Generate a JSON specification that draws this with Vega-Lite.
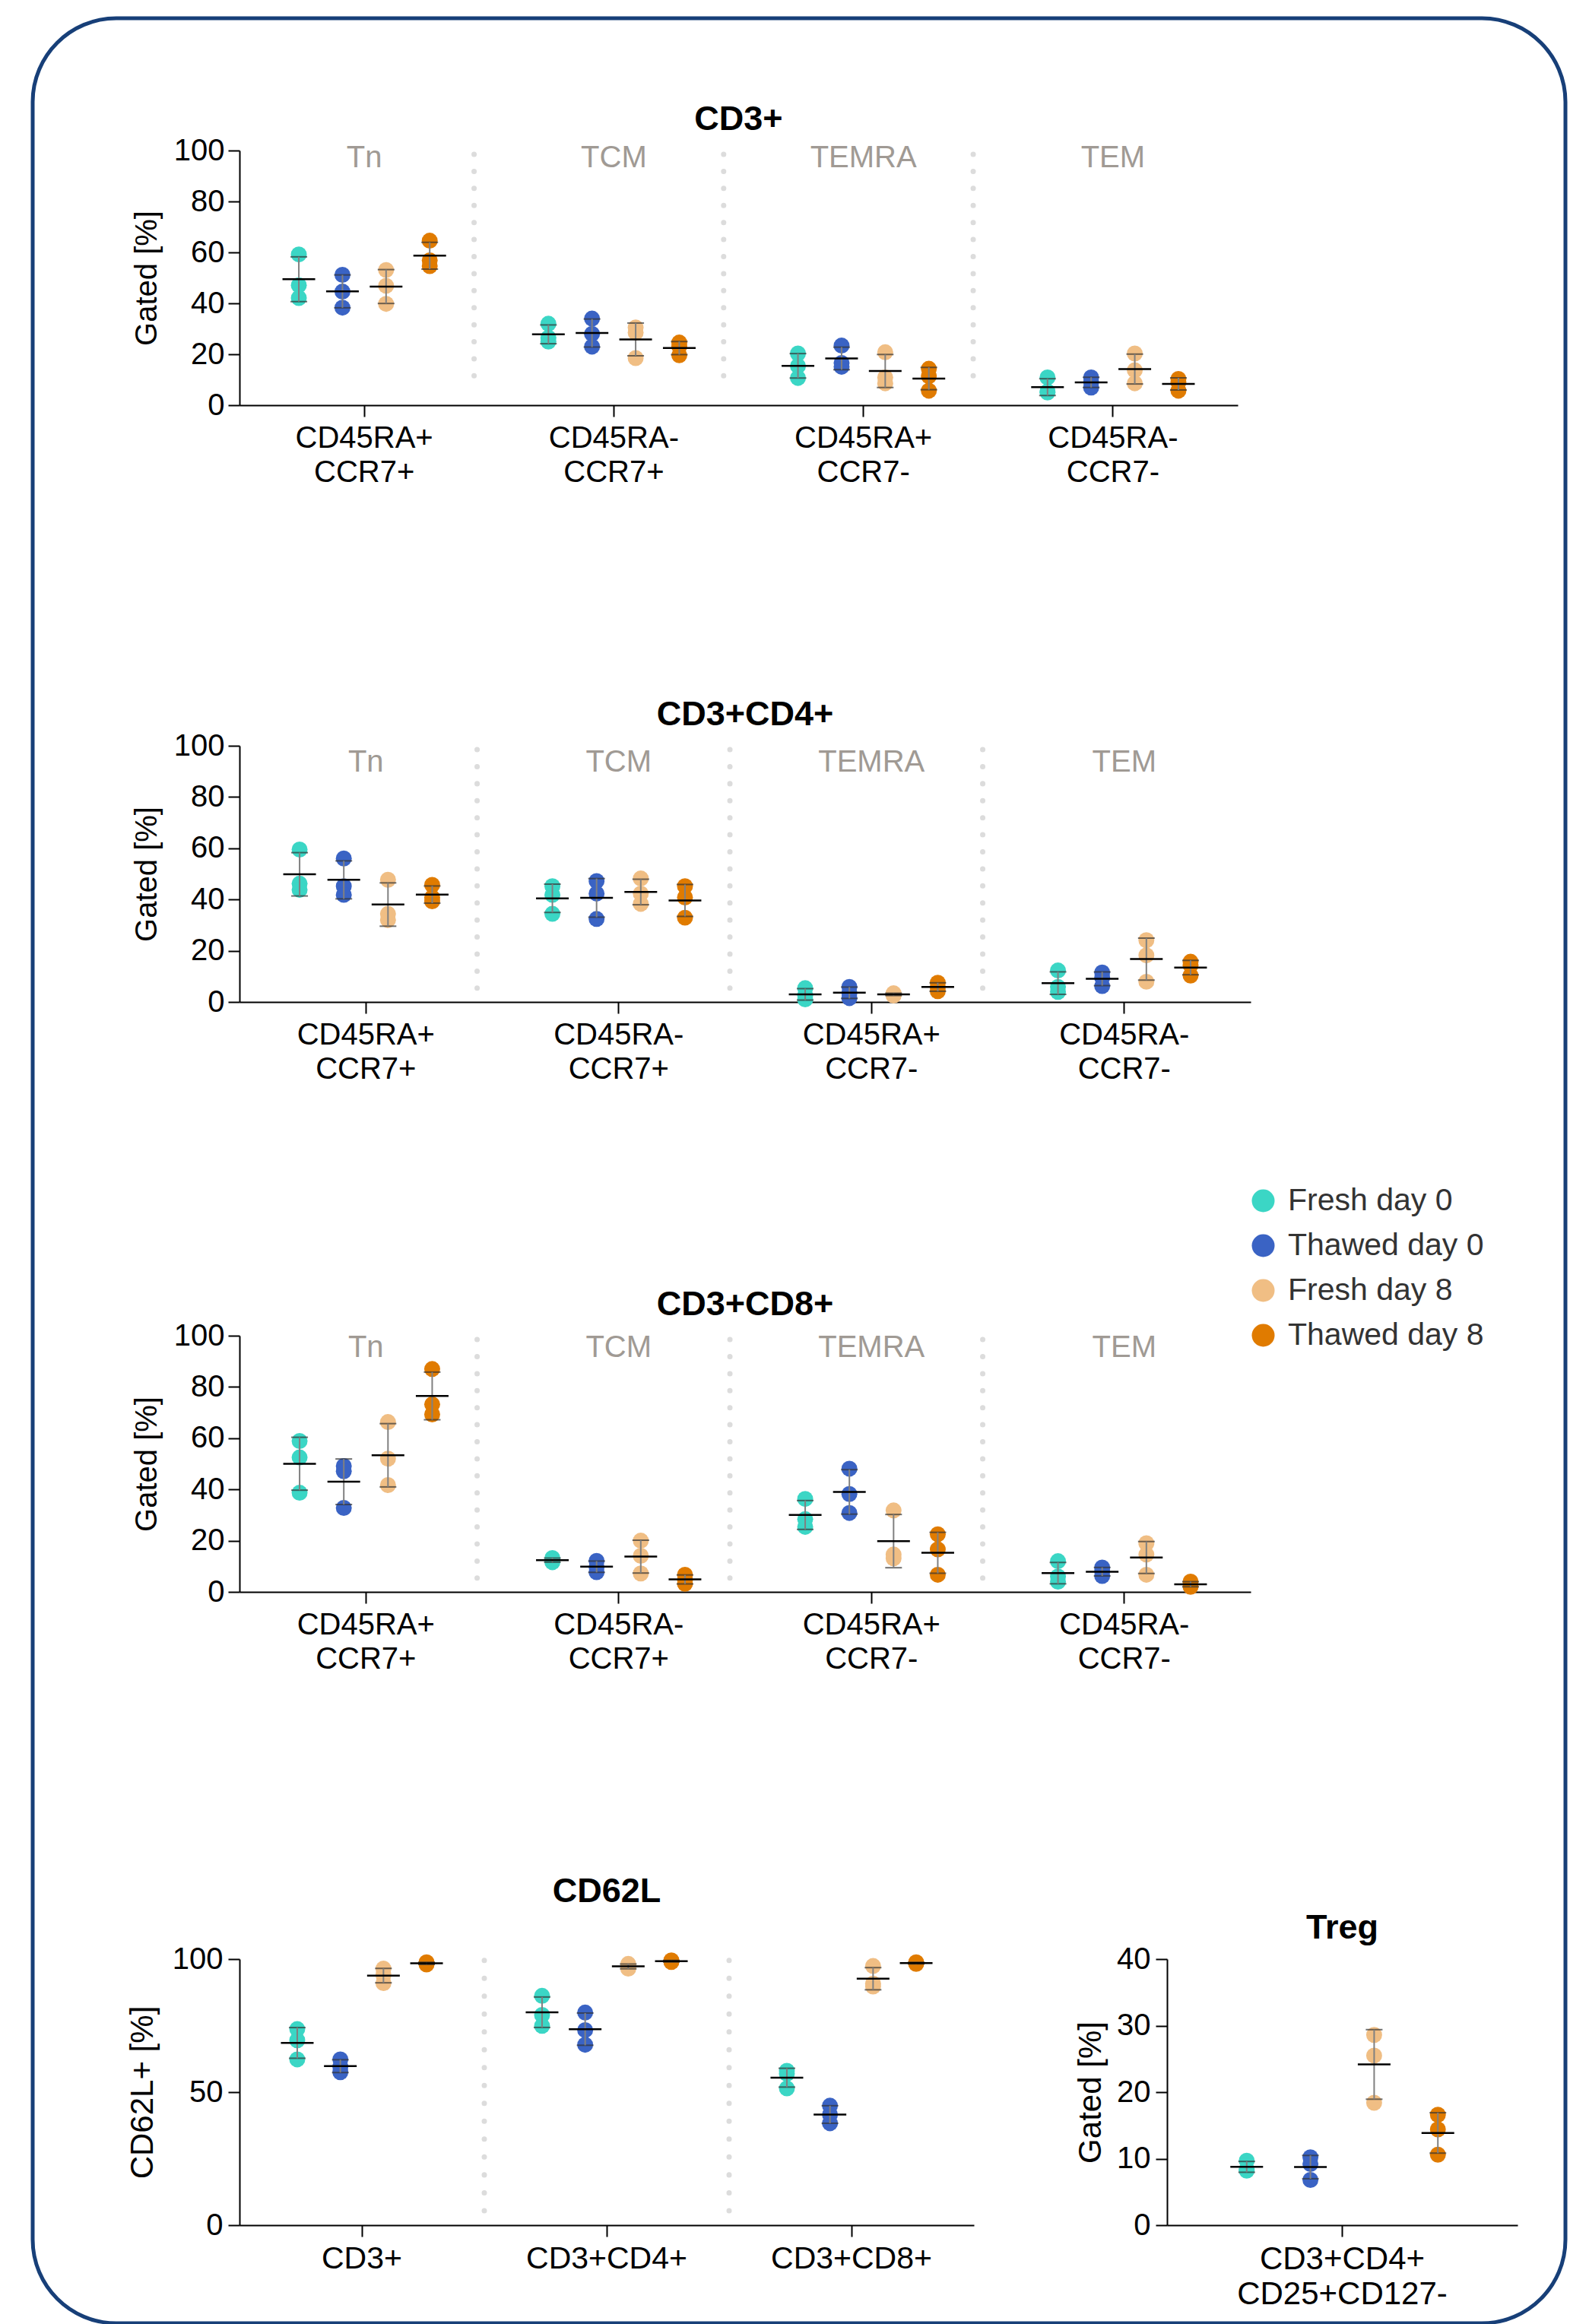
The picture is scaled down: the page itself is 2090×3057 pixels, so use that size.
{
"$schema": "https://vega.github.io/schema/vega-lite/v6.json",
"background": "white",
"padding": {"left": 40, "top": 21, "right": 10, "bottom": 10},
"config": {
  "font": "Liberation Sans",
  "view": {"stroke": null},
  "axis": {"domainColor": "#000", "domainWidth": 2, "tickColor": "#000", "tickWidth": 2, "tickSize": 15, "labelColor": "#000", "labelFontSize": 40, "titleFontSize": 40, "titleFontWeight": "normal", "titleColor": "#000", "grid": false, "labelFont": "Liberation Sans", "titleFont": "Liberation Sans", "labelLimit": 1000},
  "axisX": {"labelAngle": 0, "labelLineHeight": 45, "labelPadding": 8},
  "axisY": {"labelPadding": 5, "titlePadding": 15, "labelFlush": false},
  "title": {"font": "Liberation Sans", "fontSize": 45, "fontWeight": "bold", "color": "#000", "anchor": "middle", "frame": "group", "baseline": "alphabetic"},
  "legend": {"title": null, "symbolType": "circle", "symbolSize": 900, "symbolStrokeWidth": 0, "symbolOpacity": 1, "labelFontSize": 41, "labelColor": "#333333", "labelOffset": 12, "rowPadding": 17, "labelFont": "Liberation Sans", "labelLimit": 1000, "strokeWidth": 5}
},
"datasets": {
  "heads": [
    {"cat": "CD45RA+|CCR7+", "name": "Tn", "sep": true},
    {"cat": "CD45RA-|CCR7+", "name": "TCM", "sep": true},
    {"cat": "CD45RA+|CCR7-", "name": "TEMRA", "sep": true},
    {"cat": "CD45RA-|CCR7-", "name": "TEM", "sep": false}
  ],
  "seps62": [{"cat": "CD3+"}, {"cat": "CD3+CD4+"}],
  "obs": [
    {"panel":"CD3+","cat":"CD45RA+|CCR7+","group":"Fresh day 0","value":59.2},
    {"panel":"CD3+","cat":"CD45RA+|CCR7+","group":"Fresh day 0","value":47.1},
    {"panel":"CD3+","cat":"CD45RA+|CCR7+","group":"Fresh day 0","value":42.1},
    {"panel":"CD3+","cat":"CD45RA+|CCR7+","group":"Thawed day 0","value":51.2},
    {"panel":"CD3+","cat":"CD45RA+|CCR7+","group":"Thawed day 0","value":44.6},
    {"panel":"CD3+","cat":"CD45RA+|CCR7+","group":"Thawed day 0","value":38.3},
    {"panel":"CD3+","cat":"CD45RA+|CCR7+","group":"Fresh day 8","value":53.1},
    {"panel":"CD3+","cat":"CD45RA+|CCR7+","group":"Fresh day 8","value":46.9},
    {"panel":"CD3+","cat":"CD45RA+|CCR7+","group":"Fresh day 8","value":39.8},
    {"panel":"CD3+","cat":"CD45RA+|CCR7+","group":"Thawed day 8","value":64.6},
    {"panel":"CD3+","cat":"CD45RA+|CCR7+","group":"Thawed day 8","value":56.9},
    {"panel":"CD3+","cat":"CD45RA+|CCR7+","group":"Thawed day 8","value":54.6},
    {"panel":"CD3+","cat":"CD45RA-|CCR7+","group":"Fresh day 0","value":32},
    {"panel":"CD3+","cat":"CD45RA-|CCR7+","group":"Fresh day 0","value":26.5},
    {"panel":"CD3+","cat":"CD45RA-|CCR7+","group":"Fresh day 0","value":25},
    {"panel":"CD3+","cat":"CD45RA-|CCR7+","group":"Thawed day 0","value":34},
    {"panel":"CD3+","cat":"CD45RA-|CCR7+","group":"Thawed day 0","value":28},
    {"panel":"CD3+","cat":"CD45RA-|CCR7+","group":"Thawed day 0","value":23},
    {"panel":"CD3+","cat":"CD45RA-|CCR7+","group":"Fresh day 8","value":30.5},
    {"panel":"CD3+","cat":"CD45RA-|CCR7+","group":"Fresh day 8","value":28.5},
    {"panel":"CD3+","cat":"CD45RA-|CCR7+","group":"Fresh day 8","value":18.5},
    {"panel":"CD3+","cat":"CD45RA-|CCR7+","group":"Thawed day 8","value":24.6},
    {"panel":"CD3+","cat":"CD45RA-|CCR7+","group":"Thawed day 8","value":23.1},
    {"panel":"CD3+","cat":"CD45RA-|CCR7+","group":"Thawed day 8","value":19.6},
    {"panel":"CD3+","cat":"CD45RA+|CCR7-","group":"Fresh day 0","value":20.3},
    {"panel":"CD3+","cat":"CD45RA+|CCR7-","group":"Fresh day 0","value":15.4},
    {"panel":"CD3+","cat":"CD45RA+|CCR7-","group":"Fresh day 0","value":10.7},
    {"panel":"CD3+","cat":"CD45RA+|CCR7-","group":"Thawed day 0","value":23.4},
    {"panel":"CD3+","cat":"CD45RA+|CCR7-","group":"Thawed day 0","value":16.6},
    {"panel":"CD3+","cat":"CD45RA+|CCR7-","group":"Thawed day 0","value":15.1},
    {"panel":"CD3+","cat":"CD45RA+|CCR7-","group":"Fresh day 8","value":20.8},
    {"panel":"CD3+","cat":"CD45RA+|CCR7-","group":"Fresh day 8","value":10.9},
    {"panel":"CD3+","cat":"CD45RA+|CCR7-","group":"Fresh day 8","value":8.6},
    {"panel":"CD3+","cat":"CD45RA+|CCR7-","group":"Thawed day 8","value":14.3},
    {"panel":"CD3+","cat":"CD45RA+|CCR7-","group":"Thawed day 8","value":11.4},
    {"panel":"CD3+","cat":"CD45RA+|CCR7-","group":"Thawed day 8","value":5.7},
    {"panel":"CD3+","cat":"CD45RA-|CCR7-","group":"Fresh day 0","value":10.9},
    {"panel":"CD3+","cat":"CD45RA-|CCR7-","group":"Fresh day 0","value":5.4},
    {"panel":"CD3+","cat":"CD45RA-|CCR7-","group":"Fresh day 0","value":5.0},
    {"panel":"CD3+","cat":"CD45RA-|CCR7-","group":"Thawed day 0","value":10.9},
    {"panel":"CD3+","cat":"CD45RA-|CCR7-","group":"Thawed day 0","value":9.1},
    {"panel":"CD3+","cat":"CD45RA-|CCR7-","group":"Thawed day 0","value":6.9},
    {"panel":"CD3+","cat":"CD45RA-|CCR7-","group":"Fresh day 8","value":20.3},
    {"panel":"CD3+","cat":"CD45RA-|CCR7-","group":"Fresh day 8","value":13.7},
    {"panel":"CD3+","cat":"CD45RA-|CCR7-","group":"Fresh day 8","value":8.6},
    {"panel":"CD3+","cat":"CD45RA-|CCR7-","group":"Thawed day 8","value":10.3},
    {"panel":"CD3+","cat":"CD45RA-|CCR7-","group":"Thawed day 8","value":9.1},
    {"panel":"CD3+","cat":"CD45RA-|CCR7-","group":"Thawed day 8","value":5.7},

    {"panel":"CD3+CD4+","cat":"CD45RA+|CCR7+","group":"Fresh day 0","value":59.5},
    {"panel":"CD3+CD4+","cat":"CD45RA+|CCR7+","group":"Fresh day 0","value":46.2},
    {"panel":"CD3+CD4+","cat":"CD45RA+|CCR7+","group":"Fresh day 0","value":43.8},
    {"panel":"CD3+CD4+","cat":"CD45RA+|CCR7+","group":"Thawed day 0","value":56},
    {"panel":"CD3+CD4+","cat":"CD45RA+|CCR7+","group":"Thawed day 0","value":45.2},
    {"panel":"CD3+CD4+","cat":"CD45RA+|CCR7+","group":"Thawed day 0","value":41.8},
    {"panel":"CD3+CD4+","cat":"CD45RA+|CCR7+","group":"Fresh day 8","value":47.7},
    {"panel":"CD3+CD4+","cat":"CD45RA+|CCR7+","group":"Fresh day 8","value":34.4},
    {"panel":"CD3+CD4+","cat":"CD45RA+|CCR7+","group":"Fresh day 8","value":32},
    {"panel":"CD3+CD4+","cat":"CD45RA+|CCR7+","group":"Thawed day 8","value":45.7},
    {"panel":"CD3+CD4+","cat":"CD45RA+|CCR7+","group":"Thawed day 8","value":40.8},
    {"panel":"CD3+CD4+","cat":"CD45RA+|CCR7+","group":"Thawed day 8","value":39.3},
    {"panel":"CD3+CD4+","cat":"CD45RA-|CCR7+","group":"Fresh day 0","value":45.2},
    {"panel":"CD3+CD4+","cat":"CD45RA-|CCR7+","group":"Fresh day 0","value":41.8},
    {"panel":"CD3+CD4+","cat":"CD45RA-|CCR7+","group":"Fresh day 0","value":34.4},
    {"panel":"CD3+CD4+","cat":"CD45RA-|CCR7+","group":"Thawed day 0","value":47.2},
    {"panel":"CD3+CD4+","cat":"CD45RA-|CCR7+","group":"Thawed day 0","value":42.3},
    {"panel":"CD3+CD4+","cat":"CD45RA-|CCR7+","group":"Thawed day 0","value":32.4},
    {"panel":"CD3+CD4+","cat":"CD45RA-|CCR7+","group":"Fresh day 8","value":48.2},
    {"panel":"CD3+CD4+","cat":"CD45RA-|CCR7+","group":"Fresh day 8","value":42.3},
    {"panel":"CD3+CD4+","cat":"CD45RA-|CCR7+","group":"Fresh day 8","value":38.3},
    {"panel":"CD3+CD4+","cat":"CD45RA-|CCR7+","group":"Thawed day 8","value":45.2},
    {"panel":"CD3+CD4+","cat":"CD45RA-|CCR7+","group":"Thawed day 8","value":40.8},
    {"panel":"CD3+CD4+","cat":"CD45RA-|CCR7+","group":"Thawed day 8","value":32.9},
    {"panel":"CD3+CD4+","cat":"CD45RA+|CCR7-","group":"Fresh day 0","value":5.4},
    {"panel":"CD3+CD4+","cat":"CD45RA+|CCR7-","group":"Fresh day 0","value":2.5},
    {"panel":"CD3+CD4+","cat":"CD45RA+|CCR7-","group":"Fresh day 0","value":1.0},
    {"panel":"CD3+CD4+","cat":"CD45RA+|CCR7-","group":"Thawed day 0","value":5.9},
    {"panel":"CD3+CD4+","cat":"CD45RA+|CCR7-","group":"Thawed day 0","value":3.4},
    {"panel":"CD3+CD4+","cat":"CD45RA+|CCR7-","group":"Thawed day 0","value":1.5},
    {"panel":"CD3+CD4+","cat":"CD45RA+|CCR7-","group":"Fresh day 8","value":3.4},
    {"panel":"CD3+CD4+","cat":"CD45RA+|CCR7-","group":"Fresh day 8","value":3.0},
    {"panel":"CD3+CD4+","cat":"CD45RA+|CCR7-","group":"Fresh day 8","value":2.5},
    {"panel":"CD3+CD4+","cat":"CD45RA+|CCR7-","group":"Thawed day 8","value":7.5},
    {"panel":"CD3+CD4+","cat":"CD45RA+|CCR7-","group":"Thawed day 8","value":5.8},
    {"panel":"CD3+CD4+","cat":"CD45RA+|CCR7-","group":"Thawed day 8","value":4.2},
    {"panel":"CD3+CD4+","cat":"CD45RA-|CCR7-","group":"Fresh day 0","value":12.3},
    {"panel":"CD3+CD4+","cat":"CD45RA-|CCR7-","group":"Fresh day 0","value":5.9},
    {"panel":"CD3+CD4+","cat":"CD45RA-|CCR7-","group":"Fresh day 0","value":3.9},
    {"panel":"CD3+CD4+","cat":"CD45RA-|CCR7-","group":"Thawed day 0","value":11.5},
    {"panel":"CD3+CD4+","cat":"CD45RA-|CCR7-","group":"Thawed day 0","value":9.5},
    {"panel":"CD3+CD4+","cat":"CD45RA-|CCR7-","group":"Thawed day 0","value":6.2},
    {"panel":"CD3+CD4+","cat":"CD45RA-|CCR7-","group":"Fresh day 8","value":24.1},
    {"panel":"CD3+CD4+","cat":"CD45RA-|CCR7-","group":"Fresh day 8","value":18.2},
    {"panel":"CD3+CD4+","cat":"CD45RA-|CCR7-","group":"Fresh day 8","value":7.9},
    {"panel":"CD3+CD4+","cat":"CD45RA-|CCR7-","group":"Thawed day 8","value":15.7},
    {"panel":"CD3+CD4+","cat":"CD45RA-|CCR7-","group":"Thawed day 8","value":14.3},
    {"panel":"CD3+CD4+","cat":"CD45RA-|CCR7-","group":"Thawed day 8","value":10.3},

    {"panel":"CD3+CD8+","cat":"CD45RA+|CCR7+","group":"Fresh day 0","value":58.9},
    {"panel":"CD3+CD8+","cat":"CD45RA+|CCR7+","group":"Fresh day 0","value":52.5},
    {"panel":"CD3+CD8+","cat":"CD45RA+|CCR7+","group":"Fresh day 0","value":38.7},
    {"panel":"CD3+CD8+","cat":"CD45RA+|CCR7+","group":"Thawed day 0","value":49.1},
    {"panel":"CD3+CD8+","cat":"CD45RA+|CCR7+","group":"Thawed day 0","value":47.1},
    {"panel":"CD3+CD8+","cat":"CD45RA+|CCR7+","group":"Thawed day 0","value":32.8},
    {"panel":"CD3+CD8+","cat":"CD45RA+|CCR7+","group":"Fresh day 8","value":66.3},
    {"panel":"CD3+CD8+","cat":"CD45RA+|CCR7+","group":"Fresh day 8","value":52},
    {"panel":"CD3+CD8+","cat":"CD45RA+|CCR7+","group":"Fresh day 8","value":41.7},
    {"panel":"CD3+CD8+","cat":"CD45RA+|CCR7+","group":"Thawed day 8","value":87},
    {"panel":"CD3+CD8+","cat":"CD45RA+|CCR7+","group":"Thawed day 8","value":73.2},
    {"panel":"CD3+CD8+","cat":"CD45RA+|CCR7+","group":"Thawed day 8","value":69.3},
    {"panel":"CD3+CD8+","cat":"CD45RA-|CCR7+","group":"Fresh day 0","value":13.2},
    {"panel":"CD3+CD8+","cat":"CD45RA-|CCR7+","group":"Fresh day 0","value":12.4},
    {"panel":"CD3+CD8+","cat":"CD45RA-|CCR7+","group":"Fresh day 0","value":11.6},
    {"panel":"CD3+CD8+","cat":"CD45RA-|CCR7+","group":"Thawed day 0","value":12.1},
    {"panel":"CD3+CD8+","cat":"CD45RA-|CCR7+","group":"Thawed day 0","value":9.7},
    {"panel":"CD3+CD8+","cat":"CD45RA-|CCR7+","group":"Thawed day 0","value":7.7},
    {"panel":"CD3+CD8+","cat":"CD45RA-|CCR7+","group":"Fresh day 8","value":20},
    {"panel":"CD3+CD8+","cat":"CD45RA-|CCR7+","group":"Fresh day 8","value":14.1},
    {"panel":"CD3+CD8+","cat":"CD45RA-|CCR7+","group":"Fresh day 8","value":7.2},
    {"panel":"CD3+CD8+","cat":"CD45RA-|CCR7+","group":"Thawed day 8","value":6.7},
    {"panel":"CD3+CD8+","cat":"CD45RA-|CCR7+","group":"Thawed day 8","value":4.7},
    {"panel":"CD3+CD8+","cat":"CD45RA-|CCR7+","group":"Thawed day 8","value":3.2},
    {"panel":"CD3+CD8+","cat":"CD45RA+|CCR7-","group":"Fresh day 0","value":36.3},
    {"panel":"CD3+CD8+","cat":"CD45RA+|CCR7-","group":"Fresh day 0","value":28.4},
    {"panel":"CD3+CD8+","cat":"CD45RA+|CCR7-","group":"Fresh day 0","value":25.4},
    {"panel":"CD3+CD8+","cat":"CD45RA+|CCR7-","group":"Thawed day 0","value":48.1},
    {"panel":"CD3+CD8+","cat":"CD45RA+|CCR7-","group":"Thawed day 0","value":38.2},
    {"panel":"CD3+CD8+","cat":"CD45RA+|CCR7-","group":"Thawed day 0","value":30.8},
    {"panel":"CD3+CD8+","cat":"CD45RA+|CCR7-","group":"Fresh day 8","value":31.8},
    {"panel":"CD3+CD8+","cat":"CD45RA+|CCR7-","group":"Fresh day 8","value":14.6},
    {"panel":"CD3+CD8+","cat":"CD45RA+|CCR7-","group":"Fresh day 8","value":13.1},
    {"panel":"CD3+CD8+","cat":"CD45RA+|CCR7-","group":"Thawed day 8","value":22.5},
    {"panel":"CD3+CD8+","cat":"CD45RA+|CCR7-","group":"Thawed day 8","value":16.6},
    {"panel":"CD3+CD8+","cat":"CD45RA+|CCR7-","group":"Thawed day 8","value":6.7},
    {"panel":"CD3+CD8+","cat":"CD45RA-|CCR7-","group":"Fresh day 0","value":12},
    {"panel":"CD3+CD8+","cat":"CD45RA-|CCR7-","group":"Fresh day 0","value":6},
    {"panel":"CD3+CD8+","cat":"CD45RA-|CCR7-","group":"Fresh day 0","value":4},
    {"panel":"CD3+CD8+","cat":"CD45RA-|CCR7-","group":"Thawed day 0","value":9.5},
    {"panel":"CD3+CD8+","cat":"CD45RA-|CCR7-","group":"Thawed day 0","value":8},
    {"panel":"CD3+CD8+","cat":"CD45RA-|CCR7-","group":"Thawed day 0","value":6.2},
    {"panel":"CD3+CD8+","cat":"CD45RA-|CCR7-","group":"Fresh day 8","value":19},
    {"panel":"CD3+CD8+","cat":"CD45RA-|CCR7-","group":"Fresh day 8","value":14.6},
    {"panel":"CD3+CD8+","cat":"CD45RA-|CCR7-","group":"Fresh day 8","value":6.7},
    {"panel":"CD3+CD8+","cat":"CD45RA-|CCR7-","group":"Thawed day 8","value":4},
    {"panel":"CD3+CD8+","cat":"CD45RA-|CCR7-","group":"Thawed day 8","value":3},
    {"panel":"CD3+CD8+","cat":"CD45RA-|CCR7-","group":"Thawed day 8","value":2},

    {"panel":"CD62L","cat":"CD3+","group":"Fresh day 0","value":73.7},
    {"panel":"CD62L","cat":"CD3+","group":"Fresh day 0","value":69.5},
    {"panel":"CD62L","cat":"CD3+","group":"Fresh day 0","value":62.3},
    {"panel":"CD62L","cat":"CD3+","group":"Thawed day 0","value":62.3},
    {"panel":"CD62L","cat":"CD3+","group":"Thawed day 0","value":59.5},
    {"panel":"CD62L","cat":"CD3+","group":"Thawed day 0","value":57.5},
    {"panel":"CD62L","cat":"CD3+","group":"Fresh day 8","value":96.4},
    {"panel":"CD62L","cat":"CD3+","group":"Fresh day 8","value":94.0},
    {"panel":"CD62L","cat":"CD3+","group":"Fresh day 8","value":91.0},
    {"panel":"CD62L","cat":"CD3+","group":"Thawed day 8","value":98.8},
    {"panel":"CD62L","cat":"CD3+","group":"Thawed day 8","value":98.4},
    {"panel":"CD62L","cat":"CD3+","group":"Thawed day 8","value":98.0},
    {"panel":"CD62L","cat":"CD3+CD4+","group":"Fresh day 0","value":86.2},
    {"panel":"CD62L","cat":"CD3+CD4+","group":"Fresh day 0","value":79.0},
    {"panel":"CD62L","cat":"CD3+CD4+","group":"Fresh day 0","value":74.9},
    {"panel":"CD62L","cat":"CD3+CD4+","group":"Thawed day 0","value":79.9},
    {"panel":"CD62L","cat":"CD3+CD4+","group":"Thawed day 0","value":73.3},
    {"panel":"CD62L","cat":"CD3+CD4+","group":"Thawed day 0","value":67.8},
    {"panel":"CD62L","cat":"CD3+CD4+","group":"Fresh day 8","value":98.2},
    {"panel":"CD62L","cat":"CD3+CD4+","group":"Fresh day 8","value":97.2},
    {"panel":"CD62L","cat":"CD3+CD4+","group":"Fresh day 8","value":96.4},
    {"panel":"CD62L","cat":"CD3+CD4+","group":"Thawed day 8","value":99.5},
    {"panel":"CD62L","cat":"CD3+CD4+","group":"Thawed day 8","value":99.2},
    {"panel":"CD62L","cat":"CD3+CD4+","group":"Thawed day 8","value":98.9},
    {"panel":"CD62L","cat":"CD3+CD8+","group":"Fresh day 0","value":58},
    {"panel":"CD62L","cat":"CD3+CD8+","group":"Fresh day 0","value":56.9},
    {"panel":"CD62L","cat":"CD3+CD8+","group":"Fresh day 0","value":51.4},
    {"panel":"CD62L","cat":"CD3+CD8+","group":"Thawed day 0","value":44.9},
    {"panel":"CD62L","cat":"CD3+CD8+","group":"Thawed day 0","value":41.6},
    {"panel":"CD62L","cat":"CD3+CD8+","group":"Thawed day 0","value":38.3},
    {"panel":"CD62L","cat":"CD3+CD8+","group":"Fresh day 8","value":97.4},
    {"panel":"CD62L","cat":"CD3+CD8+","group":"Fresh day 8","value":90.8},
    {"panel":"CD62L","cat":"CD3+CD8+","group":"Fresh day 8","value":89.7},
    {"panel":"CD62L","cat":"CD3+CD8+","group":"Thawed day 8","value":98.8},
    {"panel":"CD62L","cat":"CD3+CD8+","group":"Thawed day 8","value":98.5},
    {"panel":"CD62L","cat":"CD3+CD8+","group":"Thawed day 8","value":98.2},

    {"panel":"Treg","cat":"CD3+CD4+|CD25+CD127-","group":"Fresh day 0","value":9.7},
    {"panel":"Treg","cat":"CD3+CD4+|CD25+CD127-","group":"Fresh day 0","value":8.4},
    {"panel":"Treg","cat":"CD3+CD4+|CD25+CD127-","group":"Fresh day 0","value":8.2},
    {"panel":"Treg","cat":"CD3+CD4+|CD25+CD127-","group":"Thawed day 0","value":10.2},
    {"panel":"Treg","cat":"CD3+CD4+|CD25+CD127-","group":"Thawed day 0","value":9.2},
    {"panel":"Treg","cat":"CD3+CD4+|CD25+CD127-","group":"Thawed day 0","value":6.8},
    {"panel":"Treg","cat":"CD3+CD4+|CD25+CD127-","group":"Fresh day 8","value":28.6},
    {"panel":"Treg","cat":"CD3+CD4+|CD25+CD127-","group":"Fresh day 8","value":25.5},
    {"panel":"Treg","cat":"CD3+CD4+|CD25+CD127-","group":"Fresh day 8","value":18.4},
    {"panel":"Treg","cat":"CD3+CD4+|CD25+CD127-","group":"Thawed day 8","value":16.6},
    {"panel":"Treg","cat":"CD3+CD4+|CD25+CD127-","group":"Thawed day 8","value":14.4},
    {"panel":"Treg","cat":"CD3+CD4+|CD25+CD127-","group":"Thawed day 8","value":10.6}
  ]
},
"spacing": 439,
"bounds": "flush",
"resolve": {"scale": {"xOffset": "independent"}},
"vconcat": [
  {
    "width": 1313, "height": 335,
    "title": {"text": "CD3+", "offset": -2},
    "layer": [
      {"data": {"name": "obs"}, "transform": [{"filter": "datum.panel === 'CD3+'"}],
       "encoding": {
         "x": {"field": "cat", "type": "nominal", "scale": {"type": "band", "domain": ["CD45RA+|CCR7+", "CD45RA-|CCR7+", "CD45RA+|CCR7-", "CD45RA-|CCR7-"], "paddingInner": 0, "paddingOuter": 0}, "axis": {"labelExpr": "split(datum.label, '|')", "title": null, "bandPosition": 0.5}},
         "y": {"field": "value", "type": "quantitative", "scale": {"domain": [0, 100]}, "axis": {"values": [0, 20, 40, 60, 80, 100], "title": "Gated [%]"}},
         "xOffset": {"field": "group", "type": "nominal", "scale": {"domain": ["Fresh day 0", "Thawed day 0", "Fresh day 8", "Thawed day 8"], "paddingInner": 0, "paddingOuter": 0.86}}
       },
       "layer": [
         {"mark": {"type": "point", "filled": true, "shape": "circle", "size": 440, "opacity": 1},
          "encoding": {"color": {"field": "group", "type": "nominal", "scale": {"domain": ["Fresh day 0", "Thawed day 0", "Fresh day 8", "Thawed day 8"], "range": ["#3BD6C5", "#3A63C4", "#F0BE84", "#E07B00"]}, "legend": {"orient": "none", "legendX": 1326, "legendY": 1361}}}},
         {"mark": {"type": "errorbar", "extent": "stdev", "ticks": {"size": 22, "color": "#333333", "thickness": 2}, "rule": {"color": "#808080", "strokeWidth": 2}}},
         {"mark": {"type": "tick", "color": "#000", "size": 43, "thickness": 2.5},
          "encoding": {"y": {"aggregate": "mean", "field": "value", "type": "quantitative", "axis": {"values": [0, 20, 40, 60, 80, 100], "title": "Gated [%]"}}}}
       ]},
      {"data": {"name": "heads"},
       "mark": {"type": "text", "fontSize": 40, "color": "#a09a94", "baseline": "alphabetic", "align": "center"},
       "encoding": {"x": {"field": "cat", "type": "nominal", "axis": {"labelExpr": "split(datum.label, '|')", "title": null, "bandPosition": 0.5}},
                    "y": {"datum": 93.3, "type": "quantitative", "axis": {"values": [0, 20, 40, 60, 80, 100], "title": "Gated [%]"}}, "text": {"field": "name"}}},
      {"data": {"name": "heads"}, "transform": [{"filter": "datum.sep"}],
       "mark": {"type": "rule", "color": "#dcdcdc", "strokeWidth": 7, "strokeCap": "round", "strokeDash": [0.01, 22.4]},
       "encoding": {"x": {"field": "cat", "type": "nominal", "bandPosition": 0.94, "axis": {"labelExpr": "split(datum.label, '|')", "title": null, "bandPosition": 0.5}},
                    "y": {"datum": 98.5, "type": "quantitative", "axis": {"values": [0, 20, 40, 60, 80, 100], "title": "Gated [%]"}}, "y2": {"datum": 5}}}
    ]
  },
  {
    "width": 1330, "height": 346,
    "title": {"text": "CD3+CD4+", "offset": -2},
    "layer": [
      {"data": {"name": "obs"}, "transform": [{"filter": "datum.panel === 'CD3+CD4+'"}],
       "encoding": {
         "x": {"field": "cat", "type": "nominal", "scale": {"type": "band", "domain": ["CD45RA+|CCR7+", "CD45RA-|CCR7+", "CD45RA+|CCR7-", "CD45RA-|CCR7-"], "paddingInner": 0, "paddingOuter": 0}, "axis": {"labelExpr": "split(datum.label, '|')", "title": null, "bandPosition": 0.5}},
         "y": {"field": "value", "type": "quantitative", "scale": {"domain": [0, 100], "range": [346, 9]}, "axis": {"values": [0, 20, 40, 60, 80, 100], "title": "Gated [%]"}},
         "xOffset": {"field": "group", "type": "nominal", "scale": {"domain": ["Fresh day 0", "Thawed day 0", "Fresh day 8", "Thawed day 8"], "paddingInner": 0, "paddingOuter": 0.86}}
       },
       "layer": [
         {"mark": {"type": "point", "filled": true, "shape": "circle", "size": 440, "opacity": 1},
          "encoding": {"color": {"field": "group", "type": "nominal"}}},
         {"mark": {"type": "errorbar", "extent": "stdev", "ticks": {"size": 22, "color": "#333333", "thickness": 2}, "rule": {"color": "#808080", "strokeWidth": 2}}},
         {"mark": {"type": "tick", "color": "#000", "size": 43, "thickness": 2.5},
          "encoding": {"y": {"aggregate": "mean", "field": "value", "type": "quantitative", "axis": {"values": [0, 20, 40, 60, 80, 100], "title": "Gated [%]"}}}}
       ]},
      {"data": {"name": "heads"},
       "mark": {"type": "text", "fontSize": 40, "color": "#a09a94", "baseline": "alphabetic", "align": "center"},
       "encoding": {"x": {"field": "cat", "type": "nominal", "axis": {"labelExpr": "split(datum.label, '|')", "title": null, "bandPosition": 0.5}},
                    "y": {"datum": 90, "type": "quantitative", "axis": {"values": [0, 20, 40, 60, 80, 100], "title": "Gated [%]"}}, "text": {"field": "name"}}},
      {"data": {"name": "heads"}, "transform": [{"filter": "datum.sep"}],
       "mark": {"type": "rule", "color": "#dcdcdc", "strokeWidth": 7, "strokeCap": "round", "strokeDash": [0.01, 22.4]},
       "encoding": {"x": {"field": "cat", "type": "nominal", "bandPosition": 0.94, "axis": {"labelExpr": "split(datum.label, '|')", "title": null, "bandPosition": 0.5}},
                    "y": {"datum": 98.5, "type": "quantitative", "axis": {"values": [0, 20, 40, 60, 80, 100], "title": "Gated [%]"}}, "y2": {"datum": 5}}}
    ]
  },
  {
    "width": 1330, "height": 337,
    "title": {"text": "CD3+CD8+", "offset": -2},
    "layer": [
      {"data": {"name": "obs"}, "transform": [{"filter": "datum.panel === 'CD3+CD8+'"}],
       "encoding": {
         "x": {"field": "cat", "type": "nominal", "scale": {"type": "band", "domain": ["CD45RA+|CCR7+", "CD45RA-|CCR7+", "CD45RA+|CCR7-", "CD45RA-|CCR7-"], "paddingInner": 0, "paddingOuter": 0}, "axis": {"labelExpr": "split(datum.label, '|')", "title": null, "bandPosition": 0.5}},
         "y": {"field": "value", "type": "quantitative", "scale": {"domain": [0, 100]}, "axis": {"values": [0, 20, 40, 60, 80, 100], "title": "Gated [%]"}},
         "xOffset": {"field": "group", "type": "nominal", "scale": {"domain": ["Fresh day 0", "Thawed day 0", "Fresh day 8", "Thawed day 8"], "paddingInner": 0, "paddingOuter": 0.86}}
       },
       "layer": [
         {"mark": {"type": "point", "filled": true, "shape": "circle", "size": 440, "opacity": 1},
          "encoding": {"color": {"field": "group", "type": "nominal"}}},
         {"mark": {"type": "errorbar", "extent": "stdev", "ticks": {"size": 22, "color": "#333333", "thickness": 2}, "rule": {"color": "#808080", "strokeWidth": 2}}},
         {"mark": {"type": "tick", "color": "#000", "size": 43, "thickness": 2.5},
          "encoding": {"y": {"aggregate": "mean", "field": "value", "type": "quantitative", "axis": {"values": [0, 20, 40, 60, 80, 100], "title": "Gated [%]"}}}}
       ]},
      {"data": {"name": "heads"},
       "mark": {"type": "text", "fontSize": 40, "color": "#a09a94", "baseline": "alphabetic", "align": "center"},
       "encoding": {"x": {"field": "cat", "type": "nominal", "axis": {"labelExpr": "split(datum.label, '|')", "title": null, "bandPosition": 0.5}},
                    "y": {"datum": 91.8, "type": "quantitative", "axis": {"values": [0, 20, 40, 60, 80, 100], "title": "Gated [%]"}}, "text": {"field": "name"}}},
      {"data": {"name": "heads"}, "transform": [{"filter": "datum.sep"}],
       "mark": {"type": "rule", "color": "#dcdcdc", "strokeWidth": 7, "strokeCap": "round", "strokeDash": [0.01, 22.4]},
       "encoding": {"x": {"field": "cat", "type": "nominal", "bandPosition": 0.94, "axis": {"labelExpr": "split(datum.label, '|')", "title": null, "bandPosition": 0.5}},
                    "y": {"datum": 98.5, "type": "quantitative", "axis": {"values": [0, 20, 40, 60, 80, 100], "title": "Gated [%]"}}, "y2": {"datum": 5}}}
    ]
  },
  {
    "spacing": 254,
    "bounds": "flush",
    "resolve": {"scale": {"xOffset": "independent"}},
    "hconcat": [
      {
        "width": 966, "height": 394,
        "title": {"text": "CD62L", "offset": 22},
        "layer": [
          {"data": {"name": "obs"}, "transform": [{"filter": "datum.panel === 'CD62L'"}],
           "encoding": {
             "x": {"field": "cat", "type": "nominal", "scale": {"type": "band", "domain": ["CD3+", "CD3+CD4+", "CD3+CD8+"], "paddingInner": 0, "paddingOuter": 0}, "axis": {"title": null, "labelFontSize": 41, "labelPadding": 9, "bandPosition": 0.5}},
             "y": {"field": "value", "type": "quantitative", "scale": {"domain": [0, 100], "range": [394, 44]}, "axis": {"values": [0, 50, 100], "title": "CD62L+ [%]", "titleFontSize": 42, "labelPadding": 7, "titlePadding": 17}},
             "xOffset": {"field": "group", "type": "nominal", "scale": {"domain": ["Fresh day 0", "Thawed day 0", "Fresh day 8", "Thawed day 8"], "paddingInner": 0, "paddingOuter": 0.84}}
           },
           "layer": [
             {"mark": {"type": "point", "filled": true, "shape": "circle", "size": 440, "opacity": 1},
              "encoding": {"color": {"field": "group", "type": "nominal"}}},
             {"mark": {"type": "errorbar", "extent": "stdev", "ticks": {"size": 22, "color": "#333333", "thickness": 2}, "rule": {"color": "#808080", "strokeWidth": 2}}},
             {"mark": {"type": "tick", "color": "#000", "size": 43, "thickness": 2.5},
              "encoding": {"y": {"aggregate": "mean", "field": "value", "type": "quantitative", "axis": {"values": [0, 50, 100], "title": "CD62L+ [%]", "titleFontSize": 42, "labelPadding": 7, "titlePadding": 17}}}}
           ]},
          {"data": {"name": "seps62"},
           "mark": {"type": "rule", "color": "#dcdcdc", "strokeWidth": 7, "strokeCap": "round", "strokeDash": [0.01, 23.5]},
           "encoding": {"x": {"field": "cat", "type": "nominal", "bandPosition": 1, "axis": {"title": null, "labelFontSize": 41, "labelPadding": 9, "bandPosition": 0.5}},
                        "y": {"datum": 99.5, "type": "quantitative", "axis": {"values": [0, 50, 100], "title": "CD62L+ [%]", "titleFontSize": 42, "labelPadding": 7, "titlePadding": 17}}, "y2": {"datum": 0}}}
        ]
      },
      {
        "width": 461, "height": 394,
        "title": {"text": "Treg", "offset": -26},
        "data": {"name": "obs"},
        "transform": [{"filter": "datum.panel === 'Treg'"}],
        "encoding": {
          "x": {"field": "cat", "type": "nominal", "scale": {"type": "band", "paddingInner": 0, "paddingOuter": 0}, "axis": {"labelExpr": "split(datum.label, '|')", "labelFontSize": 42, "labelLineHeight": 46, "labelPadding": 9, "title": null}},
          "xOffset": {"field": "group", "type": "nominal", "scale": {"domain": ["Fresh day 0", "Thawed day 0", "Fresh day 8", "Thawed day 8"], "paddingInner": 0, "paddingOuter": 0.75}},
          "y": {"field": "value", "type": "quantitative", "scale": {"domain": [0, 40], "range": [394, 44]}, "axis": {"values": [0, 10, 20, 30, 40], "title": "Gated [%]", "titleFontSize": 42, "labelPadding": 7, "titlePadding": 12}}
        },
        "layer": [
          {"mark": {"type": "point", "filled": true, "shape": "circle", "size": 440, "opacity": 1},
           "encoding": {"color": {"field": "group", "type": "nominal"}}},
          {"mark": {"type": "errorbar", "extent": "stdev", "ticks": {"size": 22, "color": "#333333", "thickness": 2}, "rule": {"color": "#808080", "strokeWidth": 2}}},
          {"mark": {"type": "tick", "color": "#000", "size": 43, "thickness": 2.5},
           "encoding": {"y": {"aggregate": "mean", "field": "value", "type": "quantitative", "axis": {"values": [0, 10, 20, 30, 40], "title": "Gated [%]", "titleFontSize": 42, "labelPadding": 7, "titlePadding": 12}}}},
          {"mark": {"type": "point", "opacity": 0, "size": 1},
           "encoding": {"stroke": {"field": "value", "type": "quantitative", "scale": {"range": ["rgba(0,0,0,0)", "rgba(0,0,0,0)"]},
             "legend": {"orient": "none", "legendX": -272, "legendY": -174, "direction": "vertical", "title": null, "gradientLength": 3032, "gradientThickness": 2016, "gradientStrokeWidth": 0, "gradientStrokeColor": "rgba(0,0,0,0)", "labelExpr": "''", "labelOffset": 0, "labelFontSize": 1, "padding": 0, "strokeColor": "#173F78", "cornerRadius": 110}}}}
        ]
      }
    ]
  }
]
}
